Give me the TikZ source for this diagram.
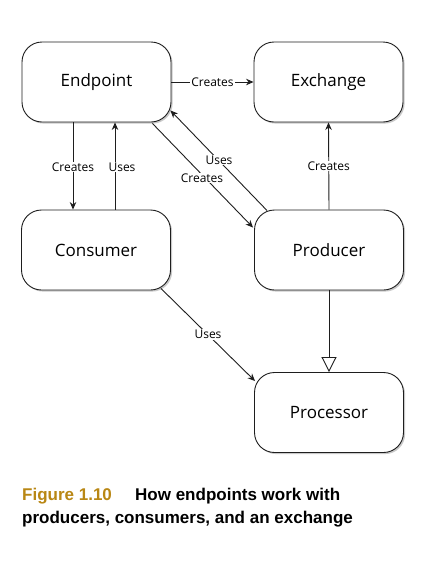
\documentclass[tikz,border=0pt]{standalone}
\usepackage{fontspec}
\setmainfont{Open Sans}
\newfontfamily\capfont{Liberation Sans}
\usetikzlibrary{arrows.meta,shadows,calc}
\definecolor{figgold}{RGB}{185,135,20}
\definecolor{lineclr}{RGB}{30,30,30}
\tikzset{
  box/.style={draw=lineclr, line width=0.9pt, rounded corners=20pt, fill=white,
    minimum width=149pt, minimum height=80pt, inner sep=0pt, text=black,
    font=\fontsize{17}{20}\selectfont,
    drop shadow={shadow xshift=1.6pt, shadow yshift=-1.6pt, fill=black!35, opacity=0.6}},
  conn/.style={draw=lineclr, line width=0.9pt, -{Stealth[length=7.5pt,width=6.5pt]}},
  inh/.style={draw=lineclr, line width=0.9pt, -{Triangle[open,length=15pt,width=15pt,fill=white]}},
  lbl/.style={fill=white, inner sep=1pt, font=\fontsize{12}{14}\selectfont, text=black},
  captext/.style={anchor=base west, inner sep=0pt, font=\capfont\bfseries\fontsize{17}{20}\selectfont}
}
\begin{document}
\begin{tikzpicture}[x=1pt,y=-1pt]
\useasboundingbox[fill=white] (0,0) rectangle (430,571);
\node[box] (endpoint) at (96.5,82) {Endpoint};
\node[box] (exchange) at (328.5,82) {Exchange};
\node[box] (consumer) at (96,250) {Consumer};
\node[box] (producer) at (329,250) {Producer};
\node[box] (processor) at (329,412.5) {Processor};

\draw[conn] (endpoint.east) -- node[lbl]{Creates} (exchange.west);

\coordinate (c1a) at ($(endpoint.south)+(-23.5,0)$);
\coordinate (c1b) at ($(consumer.north)+(-23,0)$);
\draw[conn] (c1a) -- (c1b);
\node[lbl] (lc1) at (73,167) {Creates};

\coordinate (u1a) at ($(consumer.north)+(19,0)$);
\coordinate (u1b) at ($(endpoint.south)+(18.5,0)$);
\draw[conn] (u1a) -- (u1b);
\node[lbl] (lu1) at (122,167) {Uses};

\coordinate (c2a) at ($(endpoint.south east)+(-19,1)$);
\coordinate (c2b) at ($(producer.north west)+(-1,18)$);
\draw[conn] (c2a) -- (c2b);
\node[lbl] (lc2) at (202,178) {Creates};

\coordinate (u2a) at ($(producer.north west)+(13,1)$);
\coordinate (u2b) at ($(endpoint.south east)+(-1,-12)$);
\draw[conn] (u2a) -- (u2b);
\node[lbl] (lu2) at (219,160) {Uses};

\draw[conn] (producer.north) -- node[lbl, pos=0.5]{Creates} (exchange.south);

\coordinate (u3a) at ($(consumer.south east)+(-10,-2)$);
\coordinate (u3b) at ($(processor.north west)+(1,9)$);
\draw[conn] (u3a) -- node[lbl, pos=0.5]{Uses} (u3b);

\draw[inh] (producer.south) -- (processor.north);

\node[captext, text=figgold] (fig) at (22,500) {Figure 1.10};
\node[captext] (t1) at (135,500) {How endpoints work with};
\node[captext] (t2) at (22,523) {producers, consumers, and an exchange};
\end{tikzpicture}
\end{document}
